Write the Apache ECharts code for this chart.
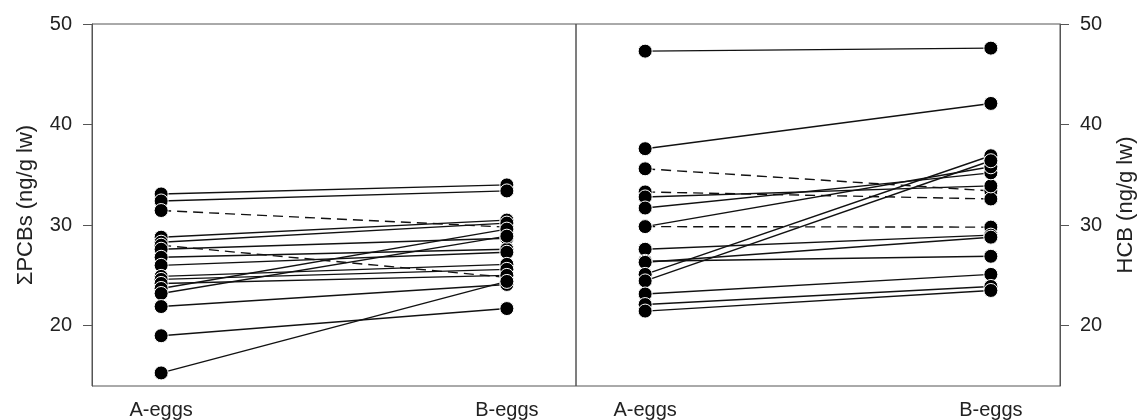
<!DOCTYPE html>
<html>
<head>
<meta charset="utf-8">
<script src="https://cdn.jsdelivr.net/npm/echarts@6/dist/echarts.min.js"></script>
<style>
  html, body { margin: 0; padding: 0; background: #fff; }
  #chart { width: 1144px; height: 420px; }
</style>
</head>
<body>
<div id="chart"></div>
<script>
var xLabels = ['A-eggs', 'B-eggs'];
var yTicks = [20, 30, 40, 50];

// left panel: sum PCBs, one pair per nest
var pcbA = [33.1, 32.4, 31.45, 28.8, 28.3, 28.0, 27.6, 26.8, 26.0, 24.9, 24.6, 24.2, 23.7, 23.2, 21.9, 19.0, 15.3];
var pcbB = [34.0, 33.4, 29.8, 30.5, 30.2, 24.8, 28.7, 27.6, 27.3, 26.1, 25.6, 25.0, 29.6, 28.9, 24.1, 21.7, 24.4];
var pcbDashed = [0, 0, 1, 0, 0, 1, 0, 0, 0, 0, 0, 0, 0, 0, 0, 0, 0];

// right panel: HCB
var hcbA = [47.3, 37.6, 35.6, 33.3, 32.8, 31.7, 29.85, 29.85, 27.6, 26.4, 26.3, 25.1, 24.45, 23.15, 22.1, 21.45];
var hcbB = [47.6, 42.1, 33.4, 32.6, 33.9, 35.2, 29.8, 35.8, 29.0, 26.9, 28.8, 36.9, 36.4, 25.1, 23.9, 23.5];
var hcbDashed = [0, 0, 1, 1, 0, 0, 1, 0, 0, 0, 0, 0, 0, 0, 0, 0];

var font = 'Liberation Sans, Arial, sans-serif';
var txt = '#222';
var axisCol = '#555';

function xAxisFor(idx) {
  return {
    type: 'value', gridIndex: idx, min: -0.2, max: 1.2, interval: 0.2,
    axisLine: { show: false }, axisTick: { show: false }, splitLine: { show: false },
    axisLabel: {
      margin: 14, color: txt, fontSize: 20, fontFamily: font,
      formatter: function (v) {
        if (Math.abs(v) < 1e-6) return xLabels[0];
        if (Math.abs(v - 1) < 1e-6) return xLabels[1];
        return '';
      }
    }
  };
}

function yAxisFor(idx, pos, name) {
  return {
    type: 'value', gridIndex: idx, position: pos, min: 14, max: 50,
    name: name, nameLocation: 'middle', nameGap: 55,
    nameTextStyle: { color: txt, fontSize: 22, fontFamily: font },
    axisLine: { show: true, onZero: false, lineStyle: { color: axisCol } },
    axisTick: { show: true, length: 9, customValues: yTicks, lineStyle: { color: axisCol } },
    axisLabel: { margin: 20, color: txt, fontSize: 20, fontFamily: font, customValues: yTicks },
    splitLine: { show: false }
  };
}

var series = [];
function addPanel(a, b, dashed, idx) {
  var pts = [];
  for (var i = 0; i < a.length; i++) {
    series.push({
      type: 'line', xAxisIndex: idx, yAxisIndex: idx,
      data: [[0, a[i]], [1, b[i]]],
      showSymbol: false, silent: true, z: 2,
      lineStyle: { color: '#111', width: 1.4, type: dashed[i] ? [10, 6] : 'solid' }
    });
    pts.push([0, a[i]], [1, b[i]]);
  }
  series.push({
    type: 'scatter', xAxisIndex: idx, yAxisIndex: idx, data: pts, z: 3,
    symbol: 'circle', symbolSize: 14,
    itemStyle: { color: '#000', borderColor: '#fff', borderWidth: 1, opacity: 1 }
  });
}
addPanel(pcbA, pcbB, pcbDashed, 0);
addPanel(hcbA, hcbB, hcbDashed, 1);

var myChart = echarts.init(document.getElementById('chart'));
myChart.setOption({
  animation: false,
  backgroundColor: '#fff',
  grid: [
    { left: 92, right: 568, top: 24, bottom: 33, show: true, borderColor: axisCol, borderWidth: 1 },
    { left: 576, right: 84, top: 24, bottom: 33, show: true, borderColor: axisCol, borderWidth: 1 }
  ],
  xAxis: [xAxisFor(0), xAxisFor(1)],
  yAxis: [
    yAxisFor(0, 'left', 'ΣPCBs (ng/g lw)'),
    yAxisFor(1, 'right', 'HCB (ng/g lw)')
  ],
  series: series
});
</script>
</body>
</html>
